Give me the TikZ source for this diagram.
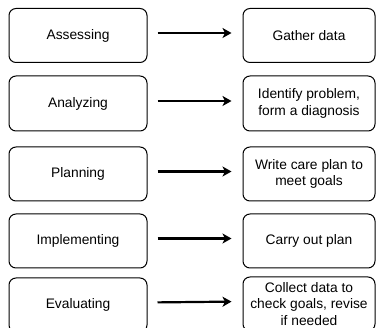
\documentclass[tikz,border=0pt]{standalone}
\usepackage{fontspec}
\setmainfont{Liberation Sans}
\usetikzlibrary{arrows.meta}
\begin{document}
\begin{tikzpicture}[x=1pt,y=-1pt,
  stage/.style={draw=black, line width=1pt, rounded corners=7pt, minimum width=138pt, minimum height=54pt, inner sep=0pt, align=center, font=\fontsize{13.8}{16.2}\selectfont},
  result/.style={stage, minimum width=132pt},
  flow/.style={line width=2.2pt, -{Stealth[length=9pt,width=10pt,inset=2.5pt]}, shorten <=10pt, shorten >=11pt}]
\useasboundingbox (0,0) rectangle (377,328);
\clip (0,0) rectangle (377,328);
\node[stage] (a1) at (78,35.5) {Assessing};
\node[stage, minimum height=55pt] (a2) at (78,103.5) {Analyzing};
\node[stage] (a3) at (78,174) {Planning};
\node[stage] (a4) at (78,241) {Implementing};
\node[stage] (a5) at (78,305) {Evaluating};
\node[result] (b1) at (309,35.5) {Gather data};
\node[result, minimum height=55pt] (b2) at (309,103.5) {Identify problem,\\form a diagnosis};
\node[result] (b3) at (309,174) {Write care plan to\\meet goals};
\node[result] (b4) at (309,241) {Carry out plan};
\node[result] (b5) at (309,304) {Collect data to\\check goals, revise\\if needed};
\foreach \i in {1,...,5} {
  \draw[flow] ([yshift=2.5pt]a\i.east) -- ([yshift=2.5pt]b\i.west);
}
\end{tikzpicture}
\end{document}
